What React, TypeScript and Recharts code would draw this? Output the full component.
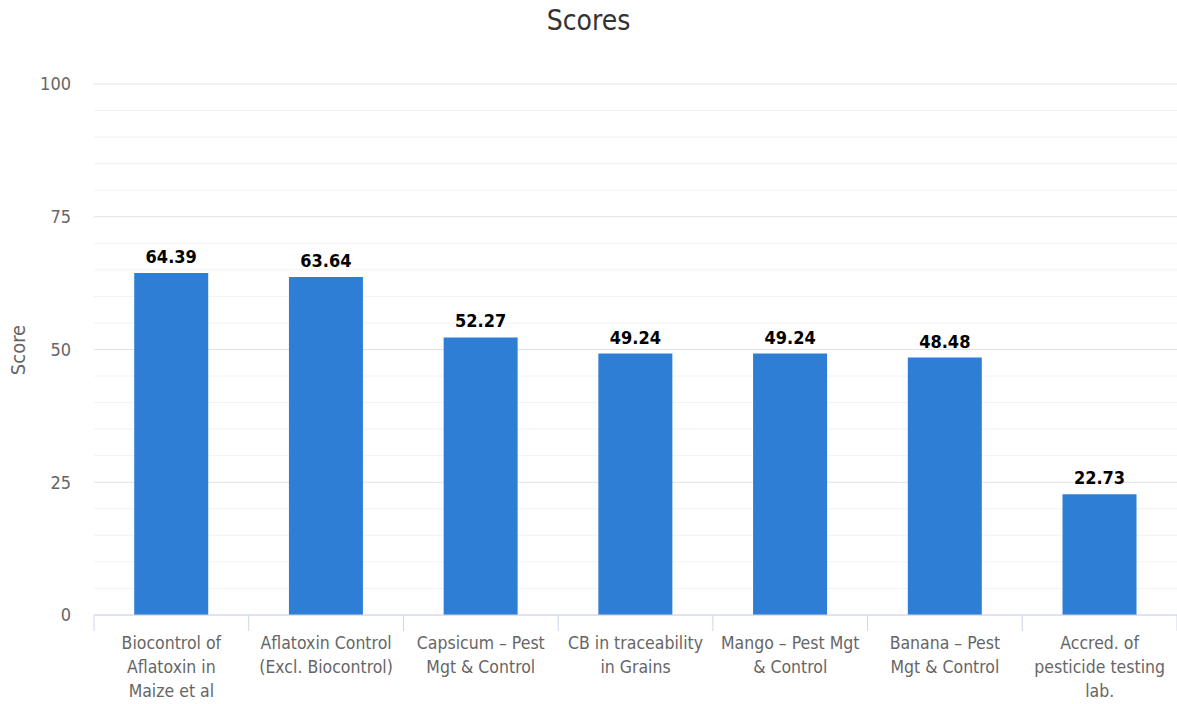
import { Bar, BarChart, CartesianGrid, LabelList, XAxis, YAxis } from 'recharts';

const FONT = "'DejaVu Sans Condensed', 'DejaVu Sans', sans-serif";

// programme areas, line breaks as they wrap under the axis
const categories = [
  'Biocontrol of\nAflatoxin in\nMaize et al',
  'Aflatoxin Control\n(Excl. Biocontrol)',
  'Capsicum – Pest\nMgt & Control',
  'CB in traceability\nin Grains',
  'Mango – Pest Mgt\n& Control',
  'Banana – Pest\nMgt & Control',
  'Accred. of\npesticide testing\nlab.',
];
const scores = [64.39, 63.64, 52.27, 49.24, 49.24, 48.48, 22.73];
const gridTicks = [0, 5, 10, 15, 20, 25, 30, 35, 40, 45, 50, 55, 60, 65, 70, 75, 80, 85, 90, 95, 100];
const labelledTicks = [0, 25, 50, 75, 100];

const data = categories.map((name, i) => ({ name, score: scores[i] }));

const W = 1177;
const H = 704;
const LEFT = 94;
const TOP = 84;
const BAND = (W - LEFT) / categories.length;

function CategoryTick(props: any) {
  const { x, y, payload, index } = props;
  const lines = String(payload.value).split('\n');
  return (
    <g>
      <line x1={x - BAND / 2} x2={x - BAND / 2} y1={y} y2={y + 16} stroke="#ccd6eb" />
      {index === categories.length - 1 && (
        <line x1={x + BAND / 2} x2={x + BAND / 2} y1={y} y2={y + 16} stroke="#ccd6eb" />
      )}
      <text x={x} y={y + 34} textAnchor="middle" fill="#666" fontSize={17.5} fontFamily={FONT}>
        {lines.map((l, i) => (
          <tspan key={i} x={x} dy={i === 0 ? 0 : 24}>{l}</tspan>
        ))}
      </text>
    </g>
  );
}

function GridLine(props: any) {
  const { x1, x2, y1, y2, index } = props;
  const major = index % 5 === 0;
  return <line key={`g${index}`} x1={x1} x2={x2} y1={y1} y2={y2} stroke={major ? '#e2e2e2' : '#f2f2f2'} strokeWidth={1} />;
}

export default function App() {
  return (
    <div style={{ position: 'absolute', left: 0, top: 0, width: W, height: H, background: '#fff', fontFamily: FONT }}>
      <div style={{ position: 'absolute', left: 0, width: W, top: 4, textAlign: 'center', fontSize: 28, color: '#333' }}>
        Scores
      </div>
      <div style={{
        position: 'absolute', left: 18, top: 350, transform: 'translate(-50%, -50%) rotate(-90deg)',
        fontSize: 20, color: '#666', whiteSpace: 'nowrap',
      }}>
        Score
      </div>
      <BarChart width={W} height={H} data={data} margin={{ top: TOP, right: 0, left: 0, bottom: 0 }} barCategoryGap="26%">
        <CartesianGrid vertical={false} horizontal={GridLine} />
        <XAxis dataKey="name" height={H - 615} interval={0} tickLine={false} tickSize={0} tickMargin={0}
          axisLine={{ stroke: '#ccd6eb' }} tick={<CategoryTick />} />
        <YAxis domain={[0, 100]} ticks={gridTicks} interval={0} width={LEFT} axisLine={false} tickLine={false}
          tickSize={0} tickMargin={23}
          tickFormatter={(v: number) => (labelledTicks.includes(v) ? String(v) : '')}
          tick={{ fill: '#666', fontSize: 18, fontFamily: FONT }} />
        <Bar dataKey="score" fill="#2e7ed6" isAnimationActive={false}>
          <LabelList dataKey="score" position="top" offset={10} fill="#000" fontSize={18} fontWeight="bold"
            fontFamily={FONT} formatter={(v: number) => v.toFixed(2)} />
        </Bar>
      </BarChart>
    </div>
  );
}
